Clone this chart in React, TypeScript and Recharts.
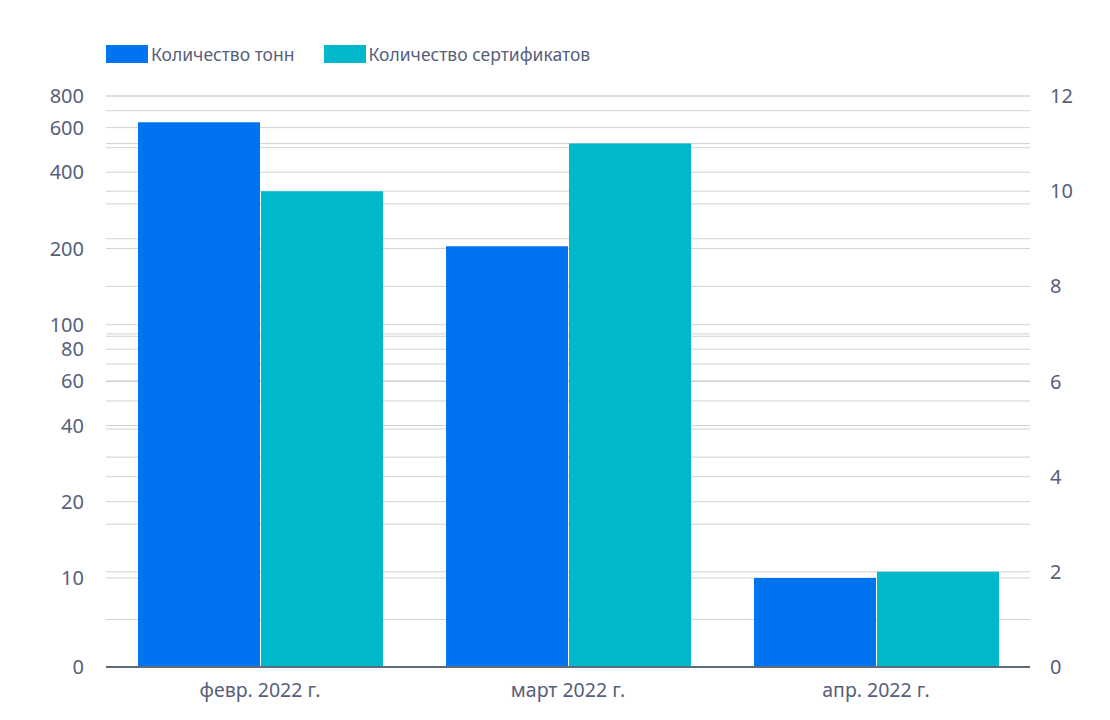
import { BarChart, Bar, XAxis, YAxis, CartesianGrid } from 'recharts';

// --- data ---
const months = ['февр. 2022 г.', 'март 2022 г.', 'апр. 2022 г.'];
const tonnes = [630, 204, 10];
const certificates = [10, 11, 2];

// left axis is logarithmic; its bottom value is shown as "0"
const leftMin = 4.45;
const leftTicks = [leftMin, 10, 20, 30, 40, 50, 60, 70, 80, 90, 100, 200, 300, 400, 500, 600, 700, 800];
const leftLabels = [10, 20, 40, 60, 80, 100, 200, 400, 600, 800];
const rightTicks = [0, 1, 2, 3, 4, 5, 6, 7, 8, 9, 10, 11, 12];

const BLUE = '#0073F0';
const TEAL = '#00B8CC';
const TEXT = '#56607A';
const GRID = '#D2D2D2';
const FONT = '"Noto Sans", "Open Sans", sans-serif';

const data = months.map((m, i) => ({ month: m, tonnes: tonnes[i], certificates: certificates[i] }));

function fmtLeft(v: number) {
    if (v === leftMin) return '0';
    return leftLabels.includes(v) ? String(v) : '';
}

function fmtRight(v: number) {
    return v % 2 === 0 ? String(v) : '';
}

function LegendItem({ color, label }: { color: string; label: string }) {
    return (
        <div style={{ display: 'flex', alignItems: 'center', marginRight: 29 }}>
            <div style={{ width: 42, height: 18, background: color, marginRight: 3 }} />
            <span style={{ fontSize: 17.5, color: TEXT }}>{label}</span>
        </div>
    );
}

export default function App() {
    return (
        <div style={{ position: 'relative', width: 1100, height: 712, fontFamily: FONT }}>
            <div style={{ position: 'absolute', top: 34, left: 98, display: 'flex' }}>
                <LegendItem color={BLUE} label="Количество тонн" />
                <LegendItem color={TEAL} label="Количество сертификатов" />
            </div>
            <BarChart
                width={1100}
                height={712}
                data={data}
                margin={{ top: 88, right: 0, left: 0, bottom: 0 }}
                barCategoryGap={32}
                barGap={1}
            >
                <CartesianGrid yAxisId="left" vertical={false} stroke={GRID} />
                <CartesianGrid yAxisId="right" vertical={false} stroke={GRID} />
                <XAxis
                    dataKey="month"
                    height={53}
                    tickLine={false}
                    axisLine={{ stroke: '#5C6B7A', strokeWidth: 2 }}
                    tick={{ fontSize: 19.5, fill: TEXT, fontFamily: FONT }}
                    tickMargin={10}
                />
                <YAxis
                    yAxisId="left"
                    orientation="left"
                    scale="log"
                    type="number"
                    domain={[leftMin, 800]}
                    allowDataOverflow
                    ticks={leftTicks}
                    interval={0}
                    tickFormatter={fmtLeft}
                    width={98}
                    tickLine={false}
                    axisLine={false}
                    tickSize={0}
                    tickMargin={22}
                    tick={{ fontSize: 20, fill: TEXT, fontFamily: FONT }}
                />
                <YAxis
                    yAxisId="right"
                    orientation="right"
                    type="number"
                    domain={[0, 12]}
                    ticks={rightTicks}
                    interval={0}
                    tickFormatter={fmtRight}
                    width={78}
                    tickLine={false}
                    axisLine={false}
                    tickSize={0}
                    tickMargin={20}
                    tick={{ fontSize: 20, fill: TEXT, fontFamily: FONT }}
                />
                <Bar yAxisId="left" dataKey="tonnes" name="Количество тонн" fill={BLUE} isAnimationActive={false} />
                <Bar yAxisId="right" dataKey="certificates" name="Количество сертификатов" fill={TEAL} isAnimationActive={false} />
            </BarChart>
        </div>
    );
}
